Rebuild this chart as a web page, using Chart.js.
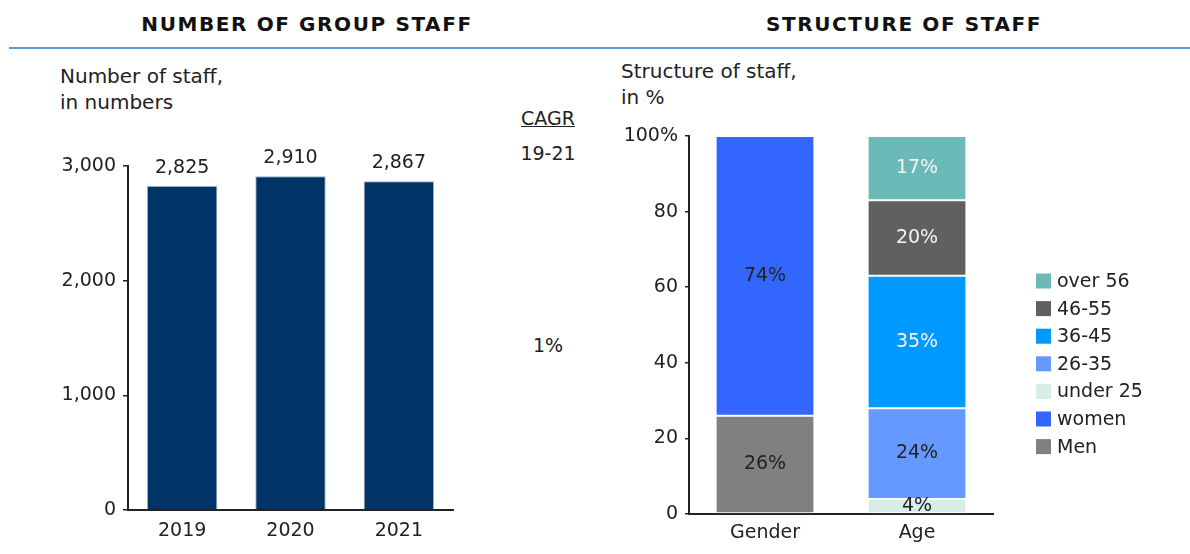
<!DOCTYPE html>
<html>
<head>
<meta charset="utf-8">
<title>Group staff</title>
<script src="https://cdn.jsdelivr.net/npm/chart.js@4.4.1/dist/chart.umd.min.js"></script>
<style>
  body { margin: 0; background: #fff; width: 1190px; height: 554px; position: relative; overflow: hidden;
         font-family: "DejaVu Sans", Verdana, sans-serif; color: #222; }
  .abs { position: absolute; white-space: nowrap; }
  .head { font-weight: bold; font-size: 20px; letter-spacing: 1.6px; line-height: 24px; top: 12px;
          transform: translateX(-50%); color: #111; }
  .rule { position: absolute; left: 9px; right: 0; top: 47px; height: 2px; background: #5b9bd5; }
  .sub { font-size: 20px; line-height: 26px; }
  .cagr { font-size: 19px; line-height: 24px; transform: translateX(-50%); }
  canvas { position: absolute; }
</style>
</head>
<body>

<div class="abs head" style="left:307px">NUMBER OF GROUP STAFF</div>
<div class="abs head" style="left:904px">STRUCTURE OF STAFF</div>
<div class="rule"></div>

<div class="abs sub" style="left:60px; top:63px">Number of staff,<br>in numbers</div>
<div class="abs sub" style="left:621px; top:58px">Structure of staff,<br>in %</div>

<div class="abs cagr" style="left:548px; top:106px; text-decoration:underline">CAGR</div>
<div class="abs cagr" style="left:548px; top:141px">19-21</div>
<div class="abs cagr" style="left:548px; top:333px">1%</div>

<canvas id="staffChart" width="480" height="424" style="left:0; top:130px"></canvas>
<canvas id="structureChart" width="590" height="444" style="left:600px; top:110px"></canvas>

<script>
// headcount per year
const years = ['2019', '2020', '2021'];
const staff = [2825, 2910, 2867];
const staffTicks = [0, 1000, 2000, 3000];

// staff structure, in %
const groups = ['Gender', 'Age'];
const genderNames = ['Men', 'women'];
const genderShares = [26, 74];
const ageNames = ['under 25', '26-35', '36-45', '46-55', 'over 56'];
const ageShares = [4, 24, 35, 20, 17];
const shareTicks = [0, 20, 40, 60, 80, 100];

const genderColors = ['#808080', '#3366ff'];
const ageColors = ['#d9ede8', '#6699ff', '#0099ff', '#606060', '#6bbab8'];
const genderLabelColors = ['#222', '#222'];
const ageLabelColors = ['#222', '#222', '#f4f4f4', '#f4f4f4', '#f4f4f4'];

Chart.defaults.font.family = "'DejaVu Sans', Verdana, sans-serif";
Chart.defaults.font.size = 19;
Chart.defaults.color = '#222';

const axisBorder = { color: '#222', width: 2 };

// Number of group staff
const staffLabels = {
    id: 'staffLabels',
    afterDatasetsDraw(chart) {
        const ctx = chart.ctx;
        ctx.save();
        ctx.font = "19px 'DejaVu Sans', Verdana, sans-serif";
        ctx.fillStyle = '#222';
        ctx.textAlign = 'center';
        ctx.textBaseline = 'middle';
        chart.getDatasetMeta(0).data.forEach((bar, i) => {
            ctx.fillText(staff[i].toLocaleString('en-US'), bar.x, bar.y - 18);
        });
        ctx.restore();
    }
};

new Chart(document.getElementById('staffChart'), {
    type: 'bar',
    data: {
        labels: years,
        datasets: [{
            data: staff,
            backgroundColor: '#003366',
            borderColor: '#9db0c6',
            borderWidth: 1,
            borderSkipped: 'bottom',
            barPercentage: 0.65,
            categoryPercentage: 1
        }]
    },
    options: {
        responsive: false,
        animation: false,
        events: [],
        locale: 'en-US',
        layout: { padding: { left: 0, right: 27, top: 36, bottom: 0 } },
        plugins: { legend: { display: false }, tooltip: { enabled: false } },
        scales: {
            x: {
                grid: { display: false },
                border: axisBorder,
                ticks: { padding: 2 },
                afterFit: s => { s.height = 44; }
            },
            y: {
                min: 0,
                max: 3000,
                afterBuildTicks: s => { s.ticks = staffTicks.map(v => ({ value: v })); },
                grid: { drawOnChartArea: false, drawTicks: true, tickLength: 5, color: '#222', lineWidth: 1.5 },
                border: axisBorder,
                ticks: { padding: 7 },
                afterFit: s => { s.width = 128; }
            }
        }
    },
    plugins: [staffLabels]
});

// Structure of staff
const colors = genderColors.concat(ageColors);
const labelColors = genderLabelColors.concat(ageLabelColors);
const datasets = genderShares.map((v, i) => ({ label: genderNames[i], data: [v, null] }))
    .concat(ageShares.map((v, i) => ({ label: ageNames[i], data: [null, v] })))
    .map((ds, i) => Object.assign(ds, {
        backgroundColor: colors[i],
        borderColor: '#ffffff',
        borderWidth: 1,
        borderSkipped: false,
        barPercentage: 0.65,
        categoryPercentage: 1
    }));

const segmentLabels = {
    id: 'segmentLabels',
    afterDatasetsDraw(chart) {
        const ctx = chart.ctx;
        ctx.save();
        ctx.font = "19px 'DejaVu Sans', Verdana, sans-serif";
        ctx.textAlign = 'center';
        ctx.textBaseline = 'middle';
        chart.data.datasets.forEach((ds, d) => {
            chart.getDatasetMeta(d).data.forEach((el, i) => {
                const v = ds.data[i];
                if (v == null) return;
                ctx.fillStyle = labelColors[d];
                ctx.fillText(v + '%', el.x, (el.y + el.base) / 2);
            });
        });
        ctx.restore();
    }
};

// legend column, top item is the last series
const sideLegend = {
    id: 'sideLegend',
    afterDraw(chart) {
        const ctx = chart.ctx;
        const x = chart.chartArea.right + 43;
        let y = 171;
        ctx.save();
        ctx.font = "19px 'DejaVu Sans', Verdana, sans-serif";
        ctx.textAlign = 'left';
        ctx.textBaseline = 'middle';
        for (let d = chart.data.datasets.length - 1; d >= 0; d--) {
            const ds = chart.data.datasets[d];
            ctx.fillStyle = ds.backgroundColor;
            ctx.fillRect(x, y - 7.5, 15, 15);
            ctx.fillStyle = '#222';
            ctx.fillText(ds.label, x + 21, y + 1);
            y += 27.6;
        }
        ctx.restore();
    }
};

new Chart(document.getElementById('structureChart'), {
    type: 'bar',
    data: { labels: groups, datasets: datasets },
    options: {
        responsive: false,
        animation: false,
        events: [],
        layout: { padding: { left: 0, right: 197, top: 26, bottom: 0 } },
        plugins: { legend: { display: false }, tooltip: { enabled: false } },
        scales: {
            x: {
                stacked: true,
                grid: { display: false },
                border: axisBorder,
                ticks: { padding: 0 },
                afterFit: s => { s.height = 40; }
            },
            y: {
                stacked: true,
                min: 0,
                max: 100,
                afterBuildTicks: s => { s.ticks = shareTicks.map(v => ({ value: v })); },
                grid: { drawOnChartArea: false, drawTicks: true, tickLength: 4, color: '#222', lineWidth: 1.5 },
                border: axisBorder,
                ticks: { padding: 7, callback: v => v === 100 ? '100%' : v },
                afterFit: s => { s.width = 89; }
            }
        }
    },
    plugins: [segmentLabels, sideLegend]
});
</script>
</body>
</html>
